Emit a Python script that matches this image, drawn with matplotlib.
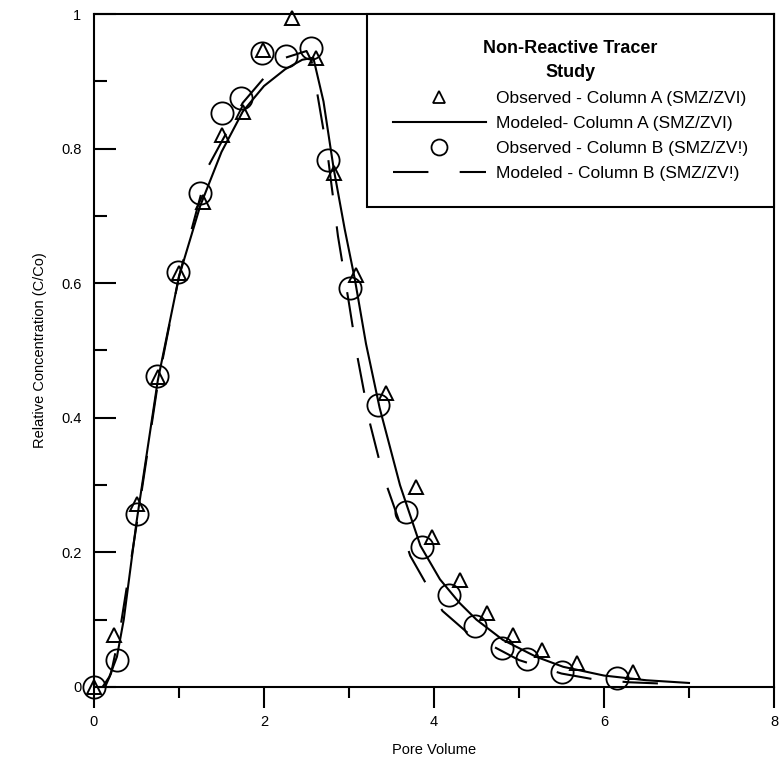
import matplotlib
matplotlib.use('Agg')
from matplotlib import pyplot as plt
from matplotlib.lines import Line2D
from matplotlib.ticker import MultipleLocator

plt.rcParams['font.family'] = ['Liberation Sans', 'DejaVu Sans']

# Observed data, Column A (triangles)
obs_a_pv = [0.0, 0.23, 0.51, 0.75, 1.0, 1.28, 1.51, 1.75, 1.99, 2.33, 2.61,
            2.82, 3.08, 3.44, 3.79, 3.98, 4.31, 4.62, 4.93, 5.27, 5.68, 6.34]
obs_a_c = [0.0, 0.077, 0.272, 0.46, 0.615, 0.72, 0.82, 0.854, 0.947, 0.994,
           0.935, 0.764, 0.612, 0.437, 0.297, 0.223, 0.159, 0.110, 0.077,
           0.055, 0.036, 0.022]

# Observed data, Column B (circles)
obs_b_pv = [0.0, 0.27, 0.51, 0.74, 0.99, 1.25, 1.51, 1.73, 1.98, 2.26, 2.55,
            2.75, 3.01, 3.34, 3.67, 3.86, 4.18, 4.48, 4.80, 5.09, 5.50, 6.15]
obs_b_c = [0.0, 0.04, 0.257, 0.462, 0.617, 0.734, 0.853, 0.875, 0.942, 0.938,
           0.949, 0.783, 0.593, 0.419, 0.260, 0.208, 0.137, 0.091, 0.058,
           0.042, 0.022, 0.013]

# Modeled curve, Column A (solid)
mod_a_pv = [0.1, 0.18, 0.27, 0.35, 0.5, 0.75, 1.0, 1.25, 1.5, 1.75, 2.0,
            2.25, 2.45, 2.58, 2.7, 2.82, 2.95, 3.07, 3.2, 3.36, 3.6, 3.84,
            4.07, 4.3, 4.5, 4.81, 5.2, 5.52, 6.0, 6.5, 7.0]
mod_a_c = [0.0, 0.015, 0.045, 0.1, 0.245, 0.455, 0.61, 0.715, 0.795, 0.855,
           0.893, 0.918, 0.932, 0.935, 0.87, 0.77, 0.68, 0.605, 0.51, 0.415,
           0.3, 0.21, 0.16, 0.125, 0.1, 0.07, 0.045, 0.03, 0.017, 0.01, 0.006]

# Modeled curve, Column B (dashed)
mod_b_pv = [0.13, 0.2, 0.3, 0.4, 0.5, 0.75, 1.0, 1.35, 1.75, 2.0, 2.25, 2.5,
            2.56, 2.62, 2.75, 2.87, 3.0, 3.1, 3.25, 3.4, 3.58, 3.72, 3.9,
            4.1, 4.4, 4.7, 5.0, 5.5, 5.9, 6.3, 6.7]
mod_b_c = [0.0, 0.02, 0.08, 0.16, 0.24, 0.45, 0.61, 0.775, 0.868, 0.905,
           0.935, 0.945, 0.93, 0.887, 0.79, 0.67, 0.57, 0.49, 0.39, 0.315,
           0.25, 0.195, 0.155, 0.113, 0.08, 0.06, 0.04, 0.02, 0.011, 0.007,
           0.005]

labels = ['Observed - Column A (SMZ/ZVI)', 'Modeled- Column A (SMZ/ZVI)',
          'Observed - Column B (SMZ/ZV!)', 'Modeled - Column B (SMZ/ZV!)']

fig = plt.figure(figsize=(7.79, 7.74), dpi=100)
ax = fig.add_axes([94 / 779, 1 - 687 / 774, 680 / 779, 673 / 774])

ax.plot(mod_a_pv, mod_a_c, color='black', lw=1.5)
ax.plot(mod_b_pv, mod_b_c, color='black', lw=1.5, dashes=(17, 15))
ax.plot(obs_a_pv, obs_a_c, ls='none', marker='^', ms=10, mfc='none',
        mec='black', mew=1.4, clip_on=False)
ax.plot(obs_b_pv, obs_b_c, ls='none', marker='o', ms=16, mfc='none',
        mec='black', mew=1.3, clip_on=False)

ax.set_xlim(0, 8)
ax.set_ylim(0, 1)
ax.xaxis.set_major_locator(MultipleLocator(2))
ax.xaxis.set_minor_locator(MultipleLocator(1))
ax.yaxis.set_minor_locator(MultipleLocator(0.1))
ax.set_yticks([0, 0.2, 0.4, 0.6, 0.8, 1.0])
ax.set_yticklabels(['0', '0.2', '0.4', '0.6', '0.8', '1'])

ax.tick_params(axis='x', which='major', direction='out', length=15, width=1.5,
               labelsize=10.5, pad=5)
ax.tick_params(axis='x', which='minor', direction='out', length=8, width=1.5)
ax.tick_params(axis='y', which='major', direction='in', length=16, width=1.5,
               labelsize=10.5, pad=9)
ax.tick_params(axis='y', which='minor', direction='in', length=9, width=1.5)

for s in ax.spines.values():
    s.set_linewidth(1.5)

ax.set_xlabel('Pore Volume', fontsize=10.5, labelpad=10)
ax.set_ylabel('Relative Concentration (C/Co)', fontsize=10.5, labelpad=10)

handles = [
    Line2D([], [], ls='none', marker='^', ms=8.5, mfc='none', mec='black', mew=1.3),
    Line2D([], [], color='black', lw=1.5),
    Line2D([], [], ls='none', marker='o', ms=11.5, mfc='none', mec='black', mew=1.3),
    Line2D([], [], color='black', lw=1.5, dashes=(17, 15)),
]
leg = ax.legend(handles, labels, loc='upper right', bbox_to_anchor=(1, 1),
                borderaxespad=0, fancybox=False, framealpha=1,
                edgecolor='black', fontsize=12.5, handlelength=5.35,
                handletextpad=0.58, labelspacing=0.58, borderpad=1.5,
                title='Non-Reactive Tracer\nStudy',
                title_fontproperties={'weight': 'bold', 'size': 13})
leg.get_frame().set_linewidth(1.5)
leg.get_title().set_multialignment('center')
leg.get_title().set_linespacing(1.5)

fig.savefig('out.png', dpi=100)
